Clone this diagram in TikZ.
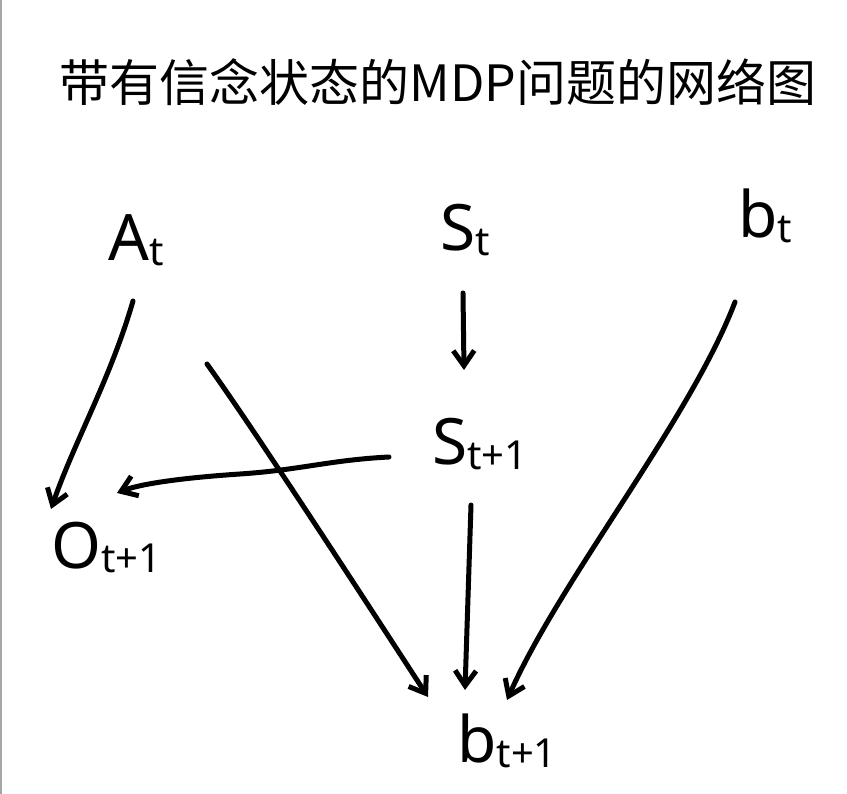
\documentclass[tikz,border=0pt]{standalone}
\usepackage{fontspec}
\setmainfont{Noto Sans}
\newfontfamily\cjk{Noto Sans CJK SC}
\usetikzlibrary{arrows.meta}
\newcommand{\mysub}[1]{\raisebox{-5pt}{\fontsize{40}{40}\selectfont #1}}
\begin{document}
\begin{tikzpicture}[x=1pt,y=-1pt,
  lab/.style={inner sep=0pt, anchor=base west, font=\fontsize{64}{64}\selectfont},
  arr/.style={line width=5pt, line cap=round, line join=round,
    -{Straight Barb[length=15pt,width=21pt]}}]
\useasboundingbox (0,0) rectangle (847,794);
\fill[white] (0,0) rectangle (847,794);
\draw[gray!70, line width=1.5pt] (0.75,0) -- (0.75,794);

\node[inner sep=0pt, font=\cjk\fontsize{50}{50}\selectfont] (title) at (438,82) {带有信念状态的MDP问题的网络图};

\node[lab] (A) at (108,261) {A\mysub{t}};
\node[lab] (S) at (440,251) {S\mysub{t}};
\node[lab] (bt) at (738,238) {b\mysub{t}};
\node[lab] (S1) at (432,465) {S\mysub{t+1}};
\node[lab] (O) at (51,568) {O\mysub{t+1}};
\node[lab] (b1) at (457,762) {b\mysub{t+1}};

% A_t -> O_{t+1}
\draw[arr] ([shift={(25,40)}]A.base west) .. controls (110,380) and (75,440) .. ([shift={(0,-59)}]O.base west);
% A_t -> b_{t+1}
\draw[arr] ([shift={(99,103)}]A.base west) .. controls (240,410) and (300,500) .. ([shift={(-29,-65)}]b1.base west);
% S_t -> S_{t+1}
\draw[arr] ([shift={(23,42)}]S.base west) -- ([shift={(32,-95)}]S1.base west);
% S_{t+1} -> O_{t+1}
\draw[arr] ([shift={(-43,-8)}]S1.base west) .. controls (330,460) and (300,470) .. (240,474) .. controls (180,478) and (140,484) .. ([shift={(66,-75)}]O.base west);
% S_{t+1} -> b_{t+1}
\draw[arr] ([shift={(39,40)}]S1.base west) -- ([shift={(8,-72)}]b1.base west);
% b_t -> b_{t+1}
\draw[arr] ([shift={(-3,64)}]bt.base west) .. controls (690,420) and (560,580) .. ([shift={(50,-62)}]b1.base west);
\end{tikzpicture}
\end{document}
